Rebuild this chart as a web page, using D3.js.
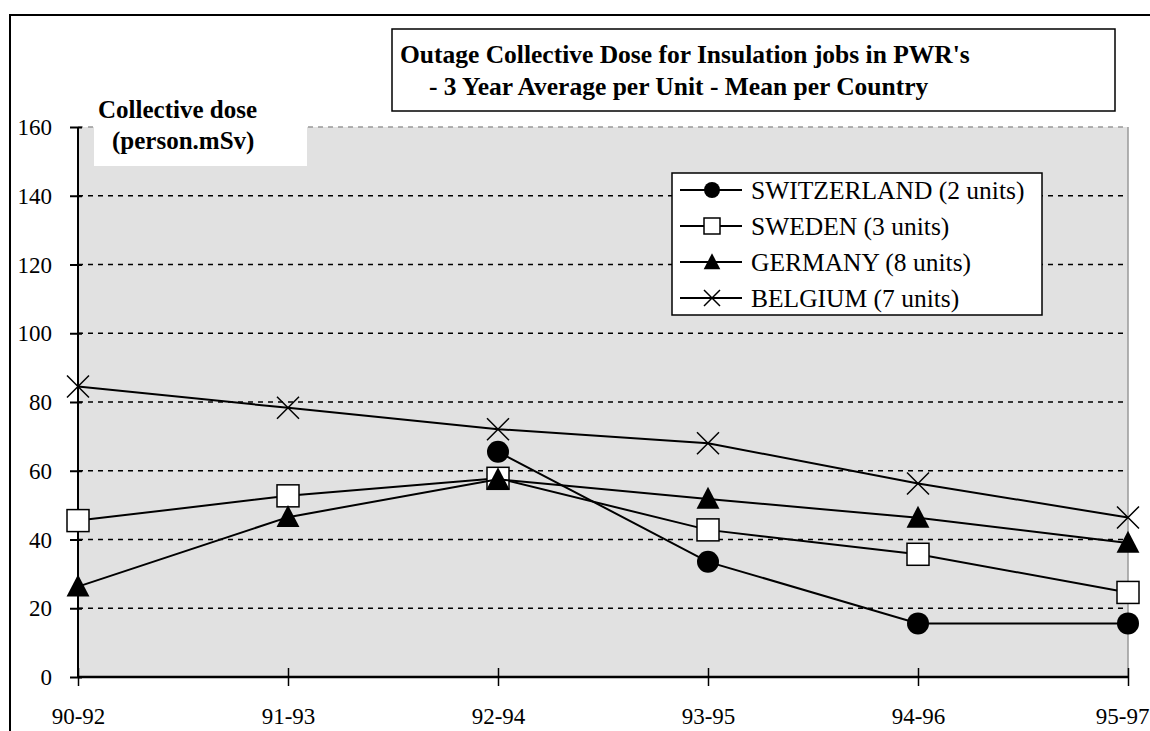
<!DOCTYPE html>
<html><head><meta charset="utf-8">
<script src="https://cdn.jsdelivr.net/npm/d3@7"></script>
</head><body style="margin:0">
<svg id="c" width="1150" height="731" font-family="Liberation Serif" style="display:block;font-family:'Liberation Serif'"></svg>
<script>
const periods = ["90-92","91-93","92-94","93-95","94-96","95-97"];
const switzerland = [null, null, 65.5, 33.5, 15.6, 15.6];
const sweden = [45.5, 52.7, 57.8, 42.8, 35.7, 24.6];
const germany = [26.3, 46.5, 57.5, 51.8, 46.3, 39.0];
const belgium = [84.5, 78.3, 72.1, 68.0, 56.3, 46.4];
const seriesNames = ["SWITZERLAND (2 units)","SWEDEN (3 units)","GERMANY (8 units)","BELGIUM (7 units)"];
const markers = ["circle","square","triangle","cross"];
const yTicks = [0,20,40,60,80,100,120,140,160];
const titleLines = ["Outage Collective Dose for Insulation jobs in PWR's","- 3 Year Average per Unit - Mean per Country"];
const yLabelLines = ["Collective dose","(person.mSv)"];

const svg = d3.select("#c");
const L = 78, R = 1128, T = 127, B = 677;
const x = d3.scalePoint().domain(periods).range([L, R]);
const y = d3.scaleLinear().domain([0,160]).range([B, T]);

function txt(sel, size, bold){
  return sel.attr("font-family", "Liberation Serif").style("font-family", `"Liberation Serif"`)
    .style("font-size", size+"px").style("font-weight", bold?"bold":"normal").attr("fill","#000");
}

// outer frame
svg.append("path").attr("d", `M10,731 L10,15 L1150,15`).attr("fill","none").attr("stroke","#000").attr("stroke-width",2);

// plot bg
svg.append("rect").attr("x",L).attr("y",T).attr("width",R-L).attr("height",B-T).attr("fill","#e1e1e1");
svg.append("line").attr("x1",R).attr("x2",R).attr("y1",T).attr("y2",B).attr("stroke","#999").attr("stroke-width",1.5);

// gridlines
svg.append("g").selectAll("line").data(yTicks.filter(d=>d>0)).join("line")
  .attr("x1",L).attr("x2",R).attr("y1",d=>y(d)).attr("y2",d=>y(d))
  .attr("stroke",d=>d===160?"#999":"#000").attr("stroke-width",1.5).attr("stroke-dasharray","5,5");

// y label box
svg.append("rect").attr("x",94).attr("y",100).attr("width",213).attr("height",66).attr("fill","#fff");
txt(svg.append("text").attr("x",98).attr("y",118).text(yLabelLines[0]), 25, true);
txt(svg.append("text").attr("x",112).attr("y",149).text(yLabelLines[1]), 25, true);

// y axis
const yAxis = svg.append("g").attr("transform",`translate(${L},0)`)
  .call(d3.axisLeft(y).tickValues(yTicks).tickSize(8).tickPadding(18).tickFormat(d3.format("d")));
yAxis.attr("font-family", null).attr("font-size", null);
yAxis.select(".domain").attr("stroke","#000").attr("stroke-width",2).attr("d",`M0,${T}V${B}`);
yAxis.selectAll(".tick line").attr("x2",-8).attr("x1",4).attr("stroke-width",2);
txt(yAxis.selectAll("text"), 23, false).attr("dy","0.33em");

// x axis
const xAxis = svg.append("g").attr("transform",`translate(0,${B})`)
  .call(d3.axisBottom(x).tickSize(9).tickPadding(22));
xAxis.attr("font-family", null).attr("font-size", null);
xAxis.select(".domain").attr("stroke","#000").attr("stroke-width",2.5).attr("d",`M${L},0H${R}`);
xAxis.selectAll(".tick line").attr("y1",-9).attr("y2",9).attr("stroke-width",1.5);
txt(xAxis.selectAll("text"), 23, false);
xAxis.selectAll("text").filter(d=>d===periods[periods.length-1]).attr("text-anchor","end").attr("x",21);

// title box
svg.append("rect").attr("x",392).attr("y",29).attr("width",723).attr("height",82).attr("fill","#fff").attr("stroke","#000").attr("stroke-width",1.5);
txt(svg.append("text").attr("x",400).attr("y",63).text(titleLines[0]), 25.5, true);
txt(svg.append("text").attr("x",429).attr("y",95).text(titleLines[1]), 25.5, true);

// series
const allSeries = [switzerland, sweden, germany, belgium];
const line = d3.line().defined(d=>d.v!=null).x(d=>x(d.p)).y(d=>y(d.v));

function drawMarker(g, type, cx, cy, s){
  if(type==="circle") g.append("circle").attr("cx",cx).attr("cy",cy).attr("r",s*0.5).attr("fill","#000");
  else if(type==="square") g.append("rect").attr("x",cx-s/2).attr("y",cy-s/2).attr("width",s).attr("height",s).attr("fill","#fff").attr("stroke","#000").attr("stroke-width",1.5);
  else if(type==="triangle") g.append("path").attr("d",`M${cx},${cy-s*0.55}L${cx+s*0.52},${cy+s*0.45}L${cx-s*0.52},${cy+s*0.45}Z`).attr("fill","#000");
  else g.append("path").attr("d",`M${cx-s/2},${cy-s/2}L${cx+s/2},${cy+s/2}M${cx+s/2},${cy-s/2}L${cx-s/2},${cy+s/2}`).attr("stroke","#000").attr("stroke-width",1.5);
}

allSeries.forEach((vals,i)=>{
  const data = periods.map((p,j)=>({p, v: vals[j]}));
  svg.append("path").datum(data).attr("d",line).attr("fill","none").attr("stroke","#000").attr("stroke-width",2);
  const g = svg.append("g");
  data.filter(d=>d.v!=null).forEach(d=>drawMarker(g, markers[i], x(d.p), y(d.v), 22));
});

// legend
const lg = svg.append("g");
lg.append("rect").attr("x",672).attr("y",173).attr("width",370).attr("height",142).attr("fill","#fff").attr("stroke","#000").attr("stroke-width",1.5);
seriesNames.forEach((name,i)=>{
  const cy = 190 + i*36;
  lg.append("line").attr("x1",680).attr("x2",742).attr("y1",cy).attr("y2",cy).attr("stroke","#000").attr("stroke-width",2);
  drawMarker(lg, markers[i], 712, cy, 16);
  txt(lg.append("text").attr("x",751).attr("y",cy+9).text(name), 25.5, false);
});
</script></body></html>
